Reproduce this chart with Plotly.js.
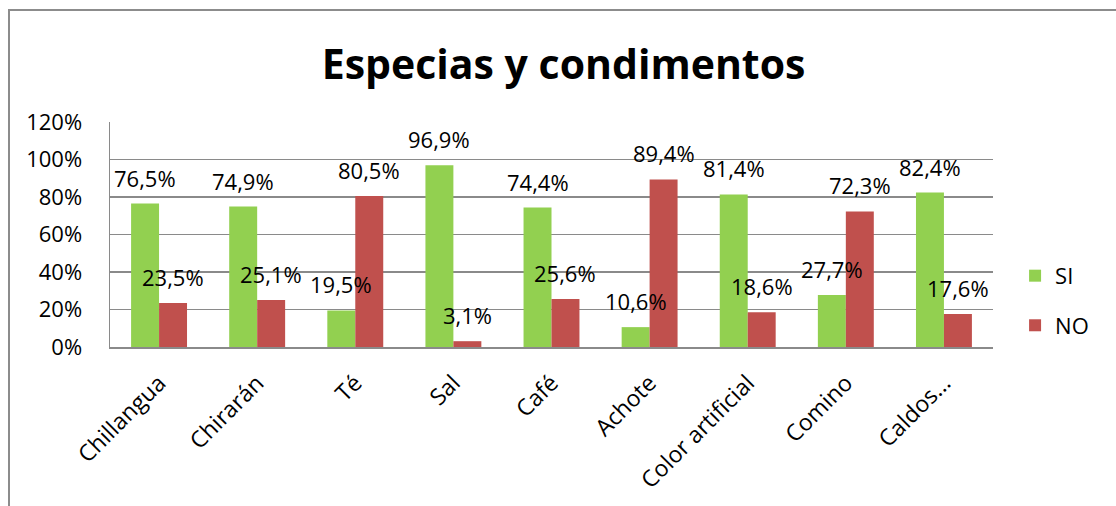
<!DOCTYPE html>
<html>
<head>
<meta charset="utf-8">
<script src="https://cdn.plot.ly/plotly-3.0.1.min.js"></script>
<style>
  body { margin: 0; background: #fff; }
  #wrap { position: relative; width: 1116px; height: 506px; overflow: hidden; }
  #frame { position: absolute; left: 8px; top: 9px; width: 1200px; height: 600px;
           border-left: 2px solid #8c8c8c; border-top: 2px solid #8c8c8c; pointer-events: none; }
  #chart { position: absolute; left: 0; top: 0; width: 1116px; height: 506px; }
</style>
</head>
<body>
<div id="wrap">
  <div id="chart"></div>
  <div id="frame"></div>
</div>
<script>
var categories = ['Chillangua', 'Chirarán', 'Té', 'Sal', 'Café', 'Achote', 'Color artificial', 'Comino', 'Caldos...'];
var si = [0.765, 0.749, 0.195, 0.969, 0.744, 0.106, 0.814, 0.277, 0.824];
var no = [0.235, 0.251, 0.805, 0.031, 0.256, 0.894, 0.186, 0.723, 0.176];
var yTicks = [0, 0.2, 0.4, 0.6, 0.8, 1.0, 1.2];

var bodyFont = '"Open Sans", "Liberation Sans", sans-serif';
var bargap = 0.43;
var barW = (1 - bargap) / 2;

function pct(v) {
  return (v * 100).toFixed(1).replace('.', ',') + '%';
}

var trace1 = {
  x: categories,
  y: si,
  name: 'SI',
  type: 'bar',
  legendgroup: 'si',
  marker: {color: '#92D050'},
  hoverinfo: 'none'
};

var trace2 = {
  x: categories,
  y: no,
  name: 'NO',
  type: 'bar',
  legendgroup: 'no',
  marker: {color: '#C0504D'},
  hoverinfo: 'none'
};

// data labels, centred above each bar
var labels = [];
categories.forEach(function (c, i) {
  labels.push({x: i - barW / 2, y: si[i], text: pct(si[i]), xref: 'x', yref: 'y',
    showarrow: false, yanchor: 'middle', yshift: 26, font: {family: bodyFont, size: 22, color: '#000'}});
  labels.push({x: i + barW / 2, y: no[i], text: pct(no[i]), xref: 'x', yref: 'y',
    showarrow: false, yanchor: 'middle', yshift: 26, font: {family: bodyFont, size: 22, color: '#000'}});
});

var data = [trace1, trace2];
var layout = {
  width: 1116,
  height: 506,
  margin: {l: 110, r: 123, t: 122, b: 159},
  barmode: 'group',
  bargap: bargap,
  bargroupgap: 0,
  paper_bgcolor: 'rgba(0,0,0,0)',
  plot_bgcolor: 'rgba(0,0,0,0)',
  separators: ',.',
  title: {
    text: '<b>Especias y condimentos</b>',
    font: {family: bodyFont, size: 41, color: '#000'},
    x: 0.505, xanchor: 'center',
    y: 0.872, yanchor: 'middle', yref: 'container'
  },
  xaxis: {
    type: 'category',
    tickangle: -45,
    tickfont: {family: bodyFont, size: 23, color: '#000'},
    ticklabelstandoff: 12,
    showline: true, linecolor: '#8a8a8a', linewidth: 1.5,
    ticks: '', showgrid: false
  },
  yaxis: {
    range: [0, 1.2],
    tickvals: yTicks,
    tickformat: '.0%',
    tickfont: {family: bodyFont, size: 22, color: '#000'},
    ticklabelstandoff: 22,
    showline: true, linecolor: '#8a8a8a', linewidth: 1.5,
    showgrid: true, gridcolor: '#8a8a8a', gridwidth: 1.5,
    zeroline: false, ticks: ''
  },
  legend: {
    x: 1.025, xanchor: 'left',
    y: 0.205, yanchor: 'middle',
    traceorder: 'grouped',
    tracegroupgap: 18,
    font: {family: bodyFont, size: 22, color: '#000'}
  },
  annotations: labels,
  showlegend: true
};
Plotly.newPlot('chart', data, layout, {displayModeBar: false, staticPlot: true});
</script>
</body>
</html>
